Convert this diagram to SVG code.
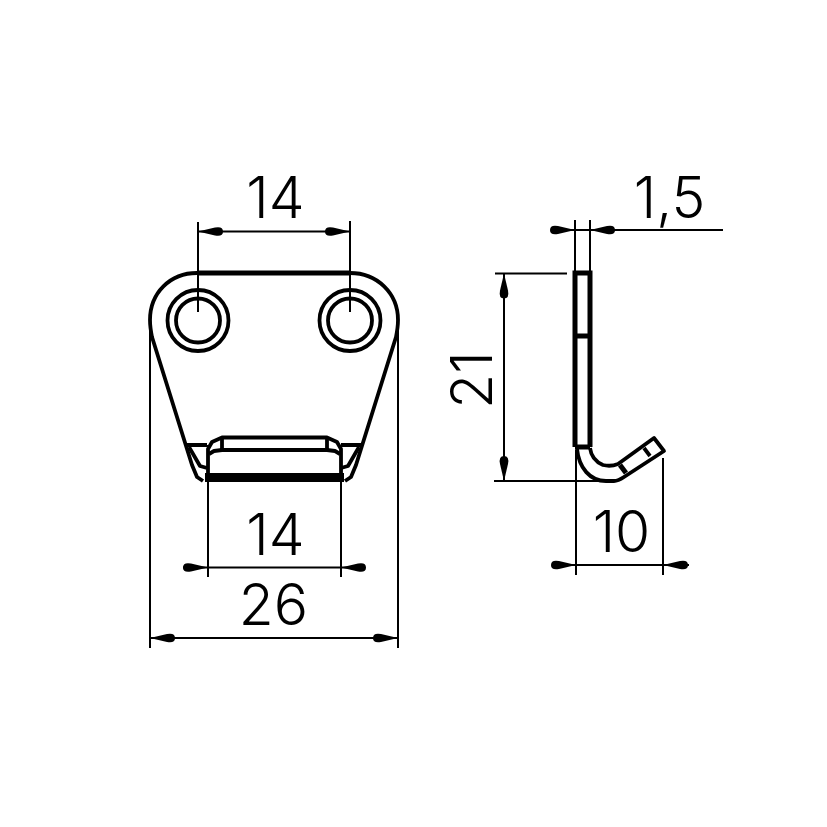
<svg xmlns="http://www.w3.org/2000/svg" width="827" height="827" viewBox="0 0 827 827">
<style>
.o{fill:none;stroke:#000;stroke-width:3.8;stroke-linejoin:round}
.b{fill:none;stroke:#000;stroke-width:5;stroke-linejoin:miter}
.d{fill:none;stroke:#000;stroke-width:2}
.t{font-family:"Inter","Liberation Sans",Arial,sans-serif;font-size:57px;font-weight:300;fill:#000;text-anchor:middle}
</style>
<defs>
<path id="a" d="M0,0L17,-4Q25,-5.500 25,0Q25,5.500 17,4Z" fill="#000"/>
</defs>
<rect width="827" height="827" fill="#fff"/>
<g id="front-view">
<path class="b" d="M197,273H350"/>
<path class="o" d="M197,273C170,273 150,293 150,320C150,326 151,332 152,337L192,465L197,477L203,481M350,273C377,273 398,293 398,320C398,326 397,332 396,337L356,465L351,477L345,481"/>
<path class="o" d="M186,445H207M189,447L200,466L207,468M362,445H341M359,447L348,466L341,468"/>
<path class="o" d="M208,480V449L212,442L222,437.500H327L337,442L341,449V480"/>
<path class="o" d="M209,454L214,451L222,450H327L335,451L340,454M222,437.500V450M327,437.500V450"/>
<rect x="205" y="473" width="139" height="9" fill="#000"/>
<g id="hole-left"><circle class="o" cx="198" cy="320.500" r="30.500"/><circle class="o" cx="198" cy="320.500" r="22"/></g>
<g id="hole-right"><circle class="o" cx="350" cy="320.500" r="30.500"/><circle class="o" cx="350" cy="320.500" r="22"/></g>
</g>
<g id="side-view">
<path class="b" d="M575,447V273H590V447M575,336H590M575,447H590"/>
<path class="o" d="M577,449C579,468 590,481 606,481H614C618,481 621,479 624,477L664,451L654,438L618,464C613,466 607,466 603,465C596,462 591,456 590,448"/>
<path class="b" d="M620,465L626,473"/>
<path class="o" d="M644,448L650,456"/>
</g>
<g id="connectors">
<path class="d" d="M198,222V312M350,221V312M198,231.500H350"/>
<use href="#a" transform="translate(198,231.500)"/>
<use href="#a" transform="translate(350,231.500) rotate(180)"/>
<path class="d" d="M208,445V577M341,445V577M183,567.500H365"/>
<use href="#a" transform="translate(208,567.500) rotate(180)"/>
<use href="#a" transform="translate(341,567.500)"/>
<path class="d" d="M150,330V648M398,330V648M150,638H398"/>
<use href="#a" transform="translate(150,638)"/>
<use href="#a" transform="translate(398,638) rotate(180)"/>
<path class="d" d="M575,220V273M590,220V273M553,230H723"/>
<use href="#a" transform="translate(575,230) rotate(180)"/>
<use href="#a" transform="translate(590,230)"/>
<path class="d" d="M495,273.500H567M494,481H615M504,273.500V481"/>
<use href="#a" transform="translate(504,273.500) rotate(90)"/>
<use href="#a" transform="translate(504,481) rotate(-90)"/>
<path class="d" d="M576,450V575M663,458V575M553,565H689"/>
<use href="#a" transform="translate(576,565) rotate(180)"/>
<use href="#a" transform="translate(663,565)"/>
</g>
<g id="labels">
<text class="t" x="275.500" y="218">14</text>
<text class="t" x="275.500" y="555">14</text>
<text class="t" x="273.500" y="625">26</text>
<text class="t" x="669.500" y="218">1,5</text>
<text class="t" x="621.500" y="552">10</text>
<text class="t" transform="translate(492,380) rotate(-90)">21</text>
</g>
</svg>
